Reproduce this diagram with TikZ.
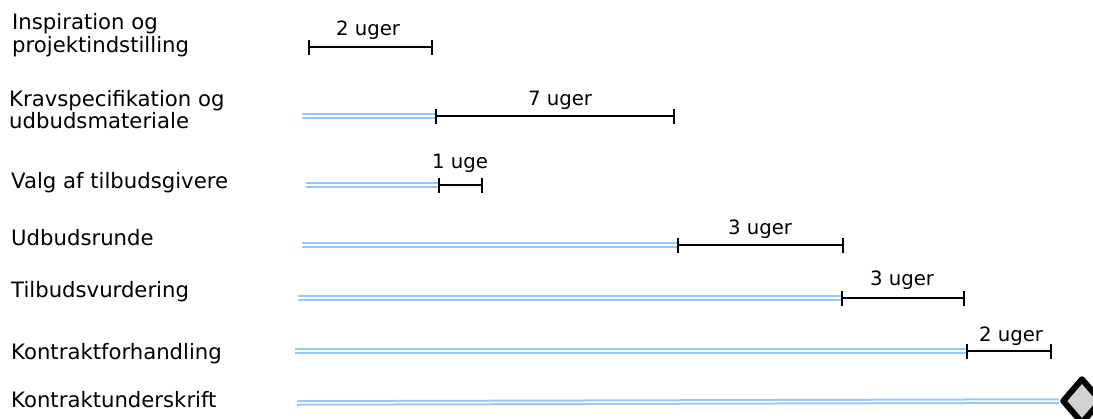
\documentclass[tikz,border=0pt]{standalone}
\usepackage{fontspec}
\setmainfont{DejaVu Sans}
\usetikzlibrary{shapes.geometric}
\definecolor{planblue}{RGB}{150,200,250}
\definecolor{signgray}{RGB}{210,210,210}
\tikzset{
  lab/.style={anchor=base west, inner sep=0pt, font=\fontsize{21.2}{23}\selectfont},
  dur/.style={anchor=base, inner sep=0pt, font=\fontsize{19.7}{22}\selectfont},
  donebar/.style={draw=planblue, double=white, double distance=1.5pt, line width=2pt},
  taskbar/.style={draw=black, line width=1.5pt},
  tick/.style={draw=black, line width=2pt},
  sign/.style={diamond, draw=black, fill=signgray, line width=6pt, line join=round,
    inner sep=0pt, minimum width=40pt, minimum height=46pt}
}
\begin{document}
\begin{tikzpicture}[x=1pt,y=-1pt]
\useasboundingbox[fill=white] (0,0) rectangle (1093,418);
% labels
\node[lab] (l1a) at (12,29) {Inspiration og};
\node[lab] (l1b) at (12,52) {projektindstilling};
\node[lab] (l2a) at (9,106) {Kravspecifikation og};
\node[lab] (l2b) at (9,128) {udbudsmateriale};
\node[lab] (l3) at (11,188) {Valg af tilbudsgivere};
\node[lab] (l4) at (11,245) {Udbudsrunde};
\node[lab] (l5) at (11,297) {Tilbudsvurdering};
\node[lab] (l6) at (11,359) {Kontraktforhandling};
\node[lab] (l7) at (11,407) {Kontraktunderskrift};
% coordinates
\coordinate (s1) at (309,47);  \coordinate (e1) at (432,47);
\coordinate (b2) at (302,116); \coordinate (s2) at (436,116); \coordinate (e2) at (674,116);
\coordinate (b3) at (306,185); \coordinate (s3) at (439,185); \coordinate (e3) at (482,185);
\coordinate (b4) at (302,245); \coordinate (s4) at (678,245); \coordinate (e4) at (843,245);
\coordinate (b5) at (298,298); \coordinate (s5) at (842,298); \coordinate (e5) at (964,298);
\coordinate (b6) at (295,351); \coordinate (s6) at (967,351); \coordinate (e6) at (1051,351);
\coordinate (b7) at (297,403);
\node[sign] (m7) at (1082,401) {};
% completed (blue double) bars
\draw[donebar] (b2) -- (s2);
\draw[donebar] (b3) -- (s3);
\draw[donebar] (b4) -- (s4);
\draw[donebar] (b5) -- (s5);
\draw[donebar] (b6) -- (s6);
\draw[donebar] (b7) -- (m7.west);
% task bars
\foreach \i in {1,...,6}{
  \draw[taskbar] (s\i) -- (e\i);
  \draw[tick] ([yshift=-7.5pt]s\i) -- ([yshift=7.5pt]s\i);
  \draw[tick] ([yshift=-7.5pt]e\i) -- ([yshift=7.5pt]e\i);
}
% durations
\node[dur] (d1) at (368,35) {2 uger};
\node[dur] (d2) at (560,105) {7 uger};
\node[dur] (d3) at (460,168) {1 uge};
\node[dur] (d4) at (760,234) {3 uger};
\node[dur] (d5) at (902,285) {3 uger};
\node[dur] (d6) at (1011,341) {2 uger};
\end{tikzpicture}
\end{document}
